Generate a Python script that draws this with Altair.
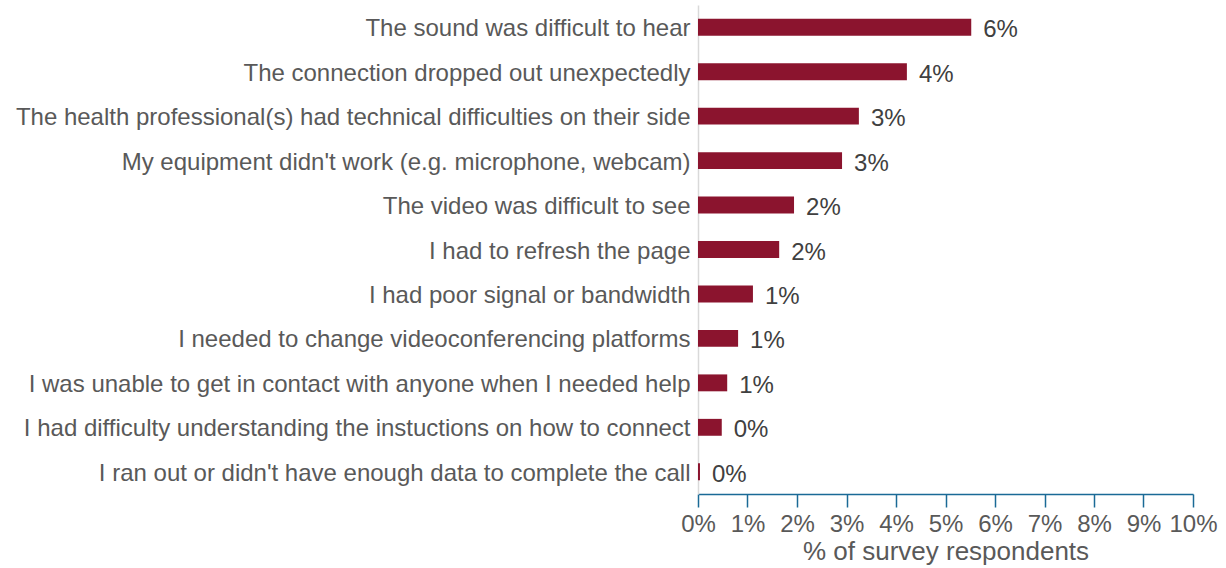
import altair as alt
import pandas as pd

categories = [
    "The sound was difficult to hear",
    "The connection dropped out unexpectedly",
    "The health professional(s) had technical difficulties on their side",
    "My equipment didn't work (e.g. microphone, webcam)",
    "The video was difficult to see",
    "I had to refresh the page",
    "I had poor signal or bandwidth",
    "I needed to change videoconferencing platforms",
    "I was unable to get in contact with anyone when I needed help",
    "I had difficulty understanding the instuctions on how to connect",
    "I ran out or didn't have enough data to complete the call",
]
values = [0.0552, 0.0422, 0.0325, 0.0291, 0.0194, 0.0164, 0.0111, 0.0081, 0.0059, 0.0048, 0.0004]
tick_values = [i / 100 for i in range(0, 11)]

df = pd.DataFrame({"cat": categories, "val": values})

FONT = "Liberation Sans"
y = alt.Y(
    "cat:N",
    sort=categories,
    title=None,
    scale=alt.Scale(paddingInner=0.62, paddingOuter=0.31),
    axis=alt.Axis(
        labelFontSize=24, labelColor="#595959", labelFont=FONT, labelPadding=8, labelOffset=2,
        ticks=False, domainColor="#d9d9d9", domainWidth=1.5, labelLimit=900,
    ),
)
x = alt.X(
    "val:Q",
    title="% of survey respondents",
    scale=alt.Scale(domain=[0, 0.1], nice=False),
    axis=alt.Axis(
        values=tick_values, format=".0%", grid=False, labelOverlap=False, labelFlush=False,
        labelFontSize=24, labelColor="#595959", labelFont=FONT, labelPadding=5,
        domainColor="#1a6a96", domainWidth=1.5, tickColor="#1a6a96", tickWidth=1.5, tickSize=13,
        titleFontSize=26, titleColor="#595959", titleFont=FONT, titleFontWeight="normal", titlePadding=2,
    ),
)

bars = alt.Chart(df).mark_bar(color="#8B142E").encode(x=x, y=y)
text = alt.Chart(df).mark_text(
    align="left", baseline="middle", dx=12, dy=3, fontSize=24, font=FONT, color="#404040"
).encode(x="val:Q", y=alt.Y("cat:N", sort=categories), text=alt.Text("val:Q", format=".0%"))

chart = (
    (bars + text)
    .properties(width=495, height=489, autosize=alt.AutoSizeParams(type="none"),
                padding={"left": 698, "top": 5, "right": 33, "bottom": 74},
                view=alt.ViewBackground(stroke="transparent", strokeOpacity=0))
    .configure_view(stroke="transparent", strokeWidth=0, strokeOpacity=0)
    .configure(background="white")
)
chart.save("out.html", embed_options={"renderer": "svg", "actions": False})
